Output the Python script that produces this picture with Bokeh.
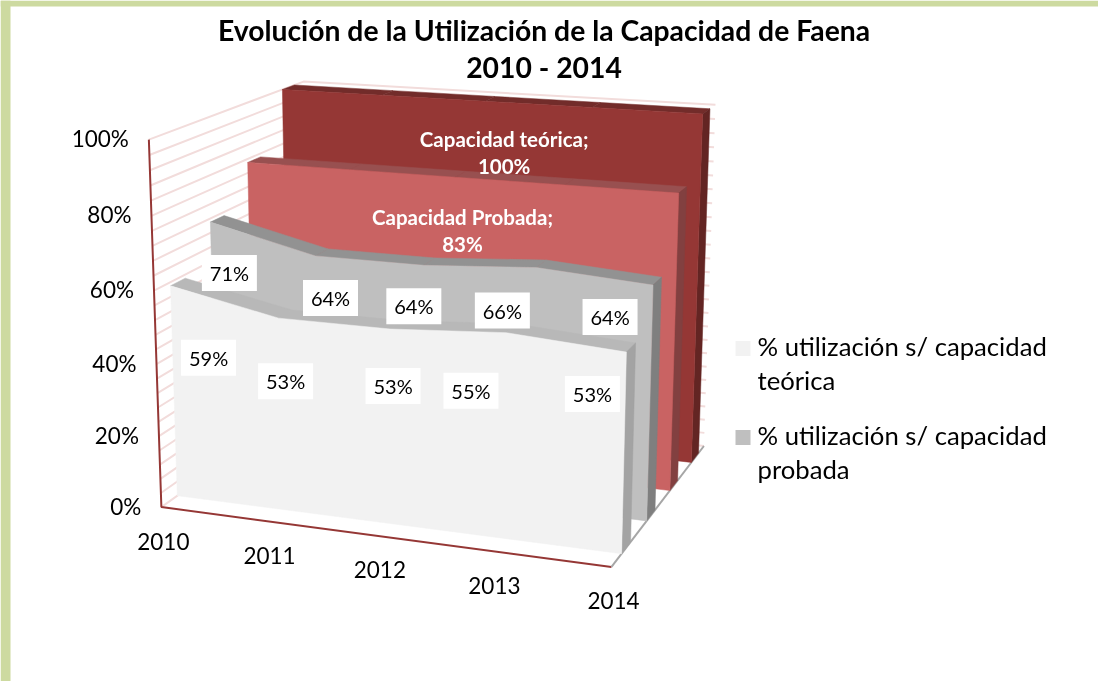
import numpy as np
from bokeh.plotting import figure
from bokeh.models import Range1d
from bokeh.core.properties import value
from bokeh.embed import file_html
from bokeh.resources import INLINE

YEARS = ["2010", "2011", "2012", "2013", "2014"]
TICKS = [0, 20, 40, 60, 80, 100]
TEORICA = [59, 53, 53, 55, 53]
PROBADA = [71, 64, 64, 66, 64]
CAP_PROBADA = [83, 83, 83, 83, 83]
CAP_TEORICA = [100, 100, 100, 100, 100]

W, H = 1098, 681
FONT = value("Lato")

# projective camera for the chart's 3D box
CAM = np.array([[405.161752, -19.046277, 48.706797, 160.869172],
                [18.18622, -373.57263, -10.724081, 506.574197],
                [-0.073579, -0.044108, 0.038808, 1.0]])


def proj(year, val, depth):
    """Camera: year index 0-4, value in %, depth slot 0-4 -> page position."""
    q = CAM @ np.array([year / 4.0, val / 100.0, depth, 1.0])
    return q[0] / q[2], q[1] / q[2]


def poly(points):
    pts = [proj(*t) for t in points]
    return [a for a, _ in pts], [c for _, c in pts]


GAP, THICK = 0.38, 0.35
LINE_RED, WALL = "#953735", "#F2DCDB"

p = figure(width=W, height=H, x_range=Range1d(0, W), y_range=Range1d(H, 0),
           output_backend="svg", toolbar_location=None, min_border=0,
           x_axis_type=None, y_axis_type=None,
           styles={"position": "fixed", "left": "0px", "top": "0px"},
           outline_line_color=None, background_fill_color="white", border_fill_color="white")
p.xgrid.visible = False
p.ygrid.visible = False

# page band
GREEN = "#CDDAA0"
p.quad(left=[0, 0], right=[W, 10], top=[0, 0], bottom=[6, H], fill_color=GREEN, line_color=None)

# wall gridlines every 4 %
for v in range(0, 101, 4):
    xs, ys = poly([(0, v, 0), (0, v, 4), (4, v, 4)])
    p.line(xs, ys, line_color=WALL, line_width=2)

# axis lines
xs, ys = poly([(0, TICKS[-1], 0), (0, 0, 0), (4, 0, 0)])
p.line(xs, ys, line_color=LINE_RED, line_width=2)
xs, ys = poly([(4, 0, 0), (4, 0, 4)])
p.line(xs, ys, line_color="#A6A6A6", line_width=2)

series = [
    (CAP_TEORICA, 3, "#953735", "#722C2A", "#632523"),
    (CAP_PROBADA, 2, "#C96363", "#985050", "#824040"),
    (PROBADA, 1, "#BFBFBF", "#929292", "#7F7F7F"),
    (TEORICA, 0, "#F2F2F2", "#B8B8B8", "#A3A3A3"),
]
for vals, slot, front, top, side in series:
    d0, d1 = slot + GAP, slot + GAP + THICK
    for i in range(4):
        xs, ys = poly([(i, vals[i], d0), (i + 1, vals[i + 1], d0), (i + 1, vals[i + 1], d1), (i, vals[i], d1)])
        p.patch(xs, ys, fill_color=top, line_color=top, line_width=0.5)
    xs, ys = poly([(4, vals[4], d0), (4, vals[4], d1), (4, 0, d1), (4, 0, d0)])
    p.patch(xs, ys, fill_color=side, line_color=side, line_width=0.5)
    outline = [(i, vals[i], d0) for i in range(5)] + [(4, 0, d0), (0, 0, d0)]
    xs, ys = poly(outline)
    p.patch(xs, ys, fill_color=front, line_color=front, line_width=0.5)

# value axis labels
for t in TICKS:
    x, y = proj(0, t, 0)
    p.text([x - 20], [y - 1], text=[f"{t}%"], text_font=FONT, text_font_size="22.5px",
           text_align="right", text_baseline="middle", text_color="#000000")
# category labels
for i, yr in enumerate(YEARS):
    x, y = proj(i, 0, 0)
    p.text([x + 2], [y + 34], text=[yr], text_font=FONT, text_font_size="22.5px",
           text_align="center", text_baseline="middle", text_color="#000000")

# data labels in white boxes
NUDGE_T = [(38, 72), (7, 63), (3, 57), (-35, 58), (-34, 42)]
NUDGE_P = [(19, 51), (15, 42), (-10, 41), (-34, 43), (-43, 32)]
for vals, nudge, slot in ((PROBADA, NUDGE_P, 1), (TEORICA, NUDGE_T, 0)):
    for i, v in enumerate(vals):
        x, y = proj(i, v, slot + GAP)
        x, y = x + nudge[i][0], y + nudge[i][1]
        p.rect([x], [y], width=55, height=36, fill_color="white", line_color=None)
        p.text([x], [y], text=[f"{v}%"], text_font=FONT, text_font_size="20px",
               text_align="center", text_baseline="middle", text_color="#000000")

# capacity labels
for name, vals, slot, dx, dy in (("Capacidad teórica;", CAP_TEORICA, 3, 19, 38),
                                 ("Capacidad Probada;", CAP_PROBADA, 2, 7, 40)):
    x, y = proj(2, vals[2], slot + GAP)
    for k, line in enumerate([name, f"{vals[2]}%"]):
        p.text([x + dx], [y + dy + 26.5 * k], text=[line], text_font=FONT, text_font_size="20.5px",
               text_font_style="bold", text_align="center", text_baseline="middle", text_color="white")

# title
for k, line in enumerate(["Evolución de la Utilización de la Capacidad de Faena", "2010 - 2014"]):
    p.text([543.5], [29 + 37 * k], text=[line], text_font=FONT, text_font_size="28.3px",
           text_font_style="bold", text_align="center", text_baseline="middle", text_color="#000000")

# legend
for ky, color, lines in ((345, "#F2F2F2", ["% utilización  s/ capacidad", "teórica"]),
                         (434, "#BFBFBF", ["% utilización  s/ capacidad", "probada"])):
    p.rect([742.5], [ky + 3], width=15, height=15, fill_color=color, line_color=None)
    for k, line in enumerate(lines):
        p.text([757], [ky + 34 * k], text=[line], text_font=FONT, text_font_size="25.7px",
               text_align="left", text_baseline="middle", text_color="#000000")

open("out.html", "w").write(file_html(p, INLINE))
